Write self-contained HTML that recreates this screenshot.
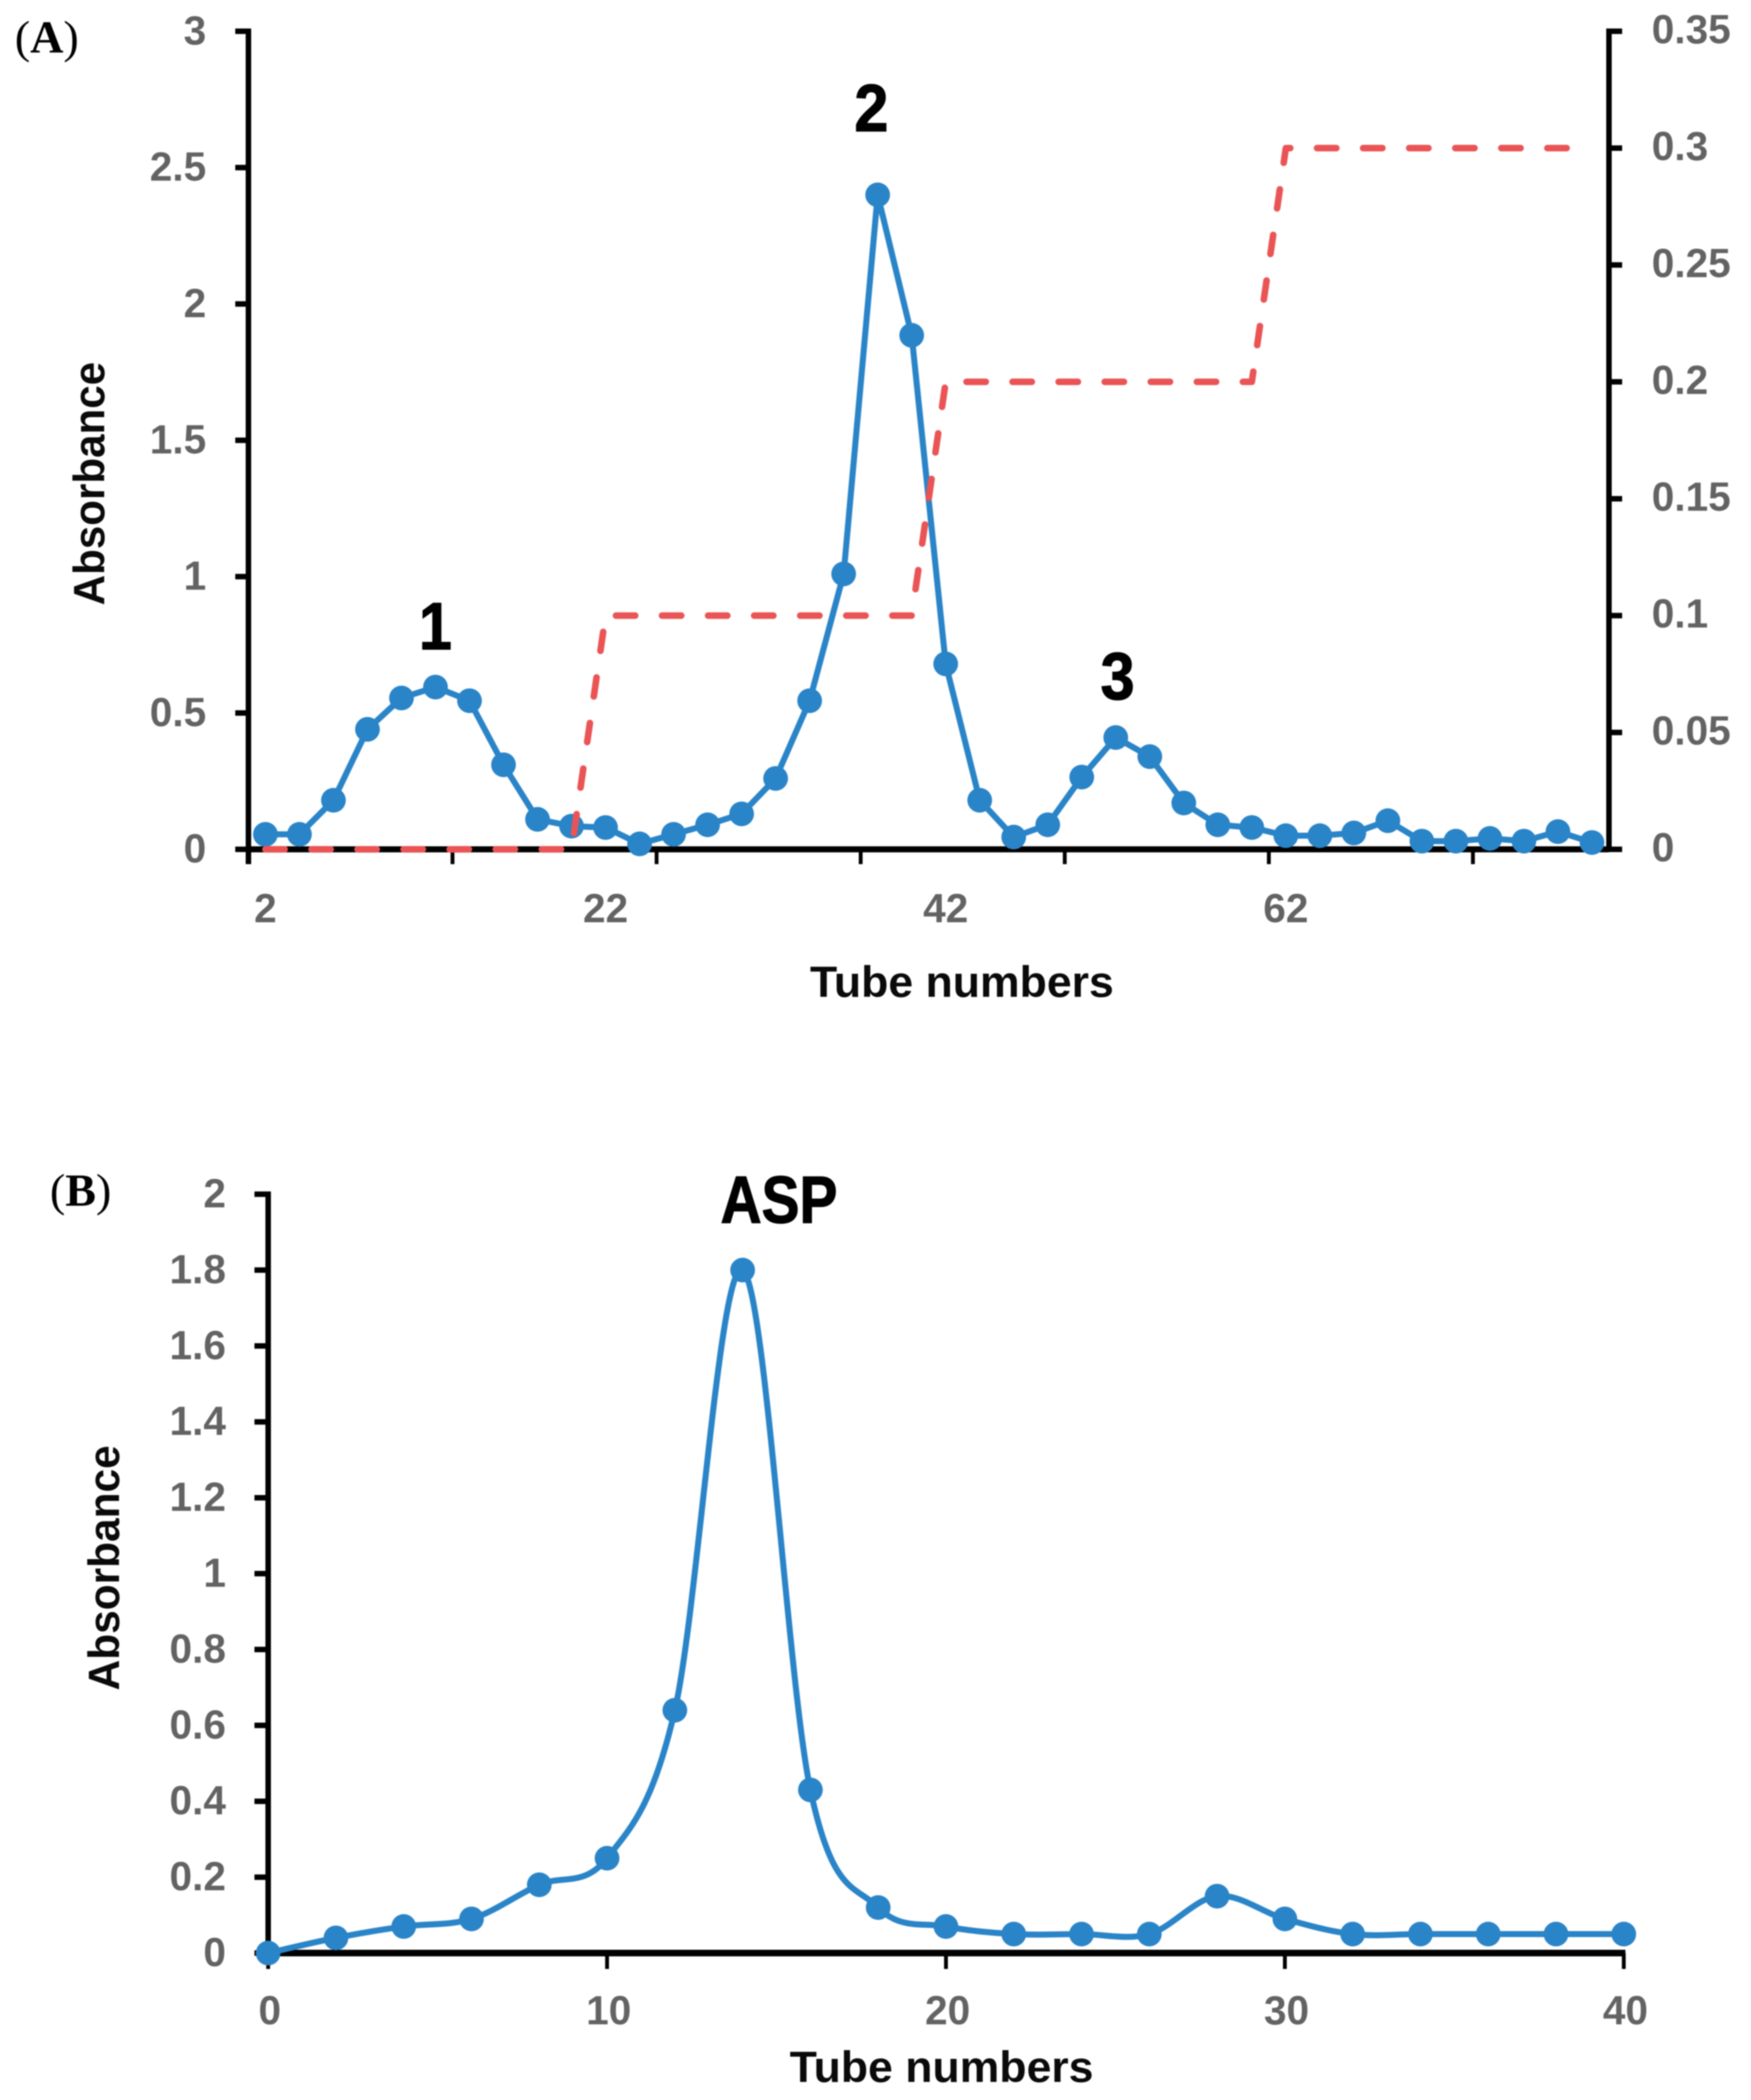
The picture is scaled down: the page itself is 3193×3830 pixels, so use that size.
<!DOCTYPE html>
<html lang="en">
<head>
<meta charset="utf-8">
<title>Absorbance elution profiles</title>
<style>
html,body{margin:0;padding:0;background:#fff;width:3193px;height:3830px;overflow:hidden}
svg{display:block;width:3193px;height:3830px;filter:blur(1px)}
text{font-family:"Liberation Sans",sans-serif}
.tick{font-size:74px;font-weight:700;fill:#636363}
.title{font-size:80px;font-weight:700;fill:#0a0a0a}
.peak{font-size:122px;font-weight:700;fill:#000;stroke:#000;stroke-width:2px}
.panel{font-family:"Liberation Serif",serif;font-size:84px;font-weight:700;fill:#000}
.paren{font-weight:400}
</style>
</head>
<body>
<svg id="figure" xmlns="http://www.w3.org/2000/svg" viewBox="0 0 3193 3830" width="3193" height="3830">
  <rect x="0" y="0" width="3193" height="3830" fill="#ffffff"/>
  <g id="chart-a"></g>
  <g id="chart-b"></g>
  <text class="panel" x="27" y="96"><tspan class="paren">(</tspan>A<tspan class="paren">)</tspan></text>
  <text class="panel" x="91" y="2199"><tspan class="paren">(</tspan>B<tspan class="paren">)</tspan></text>
  <text class="peak" x="794" y="1184" text-anchor="middle" textLength="60" lengthAdjust="spacingAndGlyphs">1</text>
  <text class="peak" x="1589" y="239" text-anchor="middle" textLength="62" lengthAdjust="spacingAndGlyphs">2</text>
  <text class="peak" x="2038" y="1275" text-anchor="middle" textLength="62" lengthAdjust="spacingAndGlyphs">3</text>
  <text class="peak" x="1314" y="2230" textLength="213" lengthAdjust="spacingAndGlyphs">ASP</text>
  <text class="title" x="1477" y="1818" textLength="554" lengthAdjust="spacingAndGlyphs">Tube numbers</text>
  <text class="title" transform="translate(190 1104) rotate(-90)" textLength="444" lengthAdjust="spacingAndGlyphs">Absorbance</text>
  <text class="title" x="1440" y="3797" textLength="554" lengthAdjust="spacingAndGlyphs">Tube numbers</text>
  <text class="title" transform="translate(217 3083) rotate(-90)" textLength="447" lengthAdjust="spacingAndGlyphs">Absorbance</text>
</svg>
<script>
// Chart A data
const tubesA = [2,4,6,8,10,12,14,16,18,20,22,24,26,28,30,32,34,36,38,40,42,44,46,48,50,52,54,56,58,60,62,64,66,68,70,72,74,76,78,80];
const absorbanceA = [0.055,0.055,0.18,0.44,0.555,0.595,0.545,0.31,0.11,0.085,0.08,0.02,0.055,0.09,0.13,0.26,0.545,1.01,2.4,1.885,0.68,0.18,0.045,0.09,0.265,0.41,0.34,0.17,0.09,0.08,0.05,0.05,0.06,0.105,0.03,0.03,0.04,0.03,0.065,0.025];
const gradientA = [0,0,0,0,0,0,0,0,0,0,0.1,0.1,0.1,0.1,0.1,0.1,0.1,0.1,0.1,0.1,0.2,0.2,0.2,0.2,0.2,0.2,0.2,0.2,0.2,0.2,0.3,0.3,0.3,0.3,0.3,0.3,0.3,0.3,0.3,0.3];
const leftTicksA = ['0','0.5','1','1.5','2','2.5','3'];
const rightTicksA = ['0','0.05','0.1','0.15','0.2','0.25','0.3','0.35'];
// Chart B data
const tubesB = [0,2,4,6,8,10,12,14,16,18,20,22,24,26,28,30,32,34,36,38,40];
const absorbanceB = [0,0.04,0.07,0.09,0.18,0.25,0.64,1.8,0.43,0.12,0.07,0.05,0.05,0.05,0.15,0.09,0.05,0.05,0.05,0.05,0.05];
const leftTicksB = ['0','0.2','0.4','0.6','0.8','1','1.2','1.4','1.6','1.8','2'];
const bottomTicksB = ['0','10','20','30','40'];

const SVGNS = 'http://www.w3.org/2000/svg';
const BLUE = '#2a84c8';
const RED = '#ea5455';

function mk(parent, tag) {
  const el = document.createElementNS(SVGNS, tag);
  parent.appendChild(el);
  return el;
}
function bar(parent, x1, y1, x2, y2, w) {
  const l = mk(parent, 'line');
  l.setAttribute('x1', x1);
  l.setAttribute('y1', y1);
  l.setAttribute('x2', x2);
  l.setAttribute('y2', y2);
  l.setAttribute('stroke', '#000');
  l.setAttribute('stroke-width', w);
  return l;
}
function label(parent, x, y, anchor, str) {
  const t = mk(parent, 'text');
  t.setAttribute('class', 'tick');
  t.setAttribute('x', x);
  t.setAttribute('y', y);
  t.setAttribute('text-anchor', anchor);
  t.textContent = str;
  return t;
}
function smoothPath(pts) {
  let d = 'M' + pts[0][0] + ' ' + pts[0][1];
  for (let i = 0; i < pts.length - 1; i++) {
    const p0 = pts[Math.max(i - 1, 0)], p1 = pts[i], p2 = pts[i + 1], p3 = pts[Math.min(i + 2, pts.length - 1)];
    const c1x = p1[0] + (p2[0] - p0[0]) / 6, c1y = p1[1] + (p2[1] - p0[1]) / 6;
    const c2x = p2[0] - (p3[0] - p1[0]) / 6, c2y = p2[1] - (p3[1] - p1[1]) / 6;
    d += ' C' + c1x + ' ' + c1y + ' ' + c2x + ' ' + c2y + ' ' + p2[0] + ' ' + p2[1];
  }
  return d;
}

/* ---------- Chart A ---------- */
(function () {
  const g = document.getElementById('chart-a');
  const left = 453, right = 2934, y0 = 1549, yTop = 57;
  const catW = (right - left) / tubesA.length;
  const xIdx = i => left + (i + 0.5) * catW;
  const yL = v => y0 - (v / parseFloat(leftTicksA[leftTicksA.length - 1])) * (y0 - yTop);
  const yR = v => y0 - (v / parseFloat(rightTicksA[rightTicksA.length - 1])) * (y0 - yTop);

  const yAxisL = bar(g, left, yTop - 5, left, 1576, 10);
  
  
  const yAxisR = bar(g, right, yTop - 5, right, y0 + 5, 10);
  
  
  const xAxis = bar(g, left, y0, right, y0, 11);
  
  

  leftTicksA.forEach(function (s) {
    const v = parseFloat(s);
    const tm = bar(g, 429, yL(v), left, yL(v), 10);
    
    
    const tl = label(g, 376, yL(v) + 24, 'end', s);
    
    
  });
  rightTicksA.forEach(function (s) {
    const v = parseFloat(s);
    const tm = bar(g, right, yR(v), 2958, yR(v), 10);
    
    
    const tl = label(g, 3012, yR(v) + 22, 'start', s);
    
    
  });
  for (let i = 0; i < tubesA.length; i += 6) {
    const x = left + i * catW;
    const tm = bar(g, x, y0, x, 1576, 7);
    
    
  }
  for (let i = 0; i < tubesA.length; i += 10) {
    const tl = label(g, xIdx(i), 1682, 'middle', String(tubesA[i]));
    
    
  }

  const line = mk(g, 'polyline');
  
  
  line.setAttribute('points', absorbanceA.map((v, i) => xIdx(i) + ',' + yL(v)).join(' '));
  line.setAttribute('fill', 'none');
  line.setAttribute('stroke', BLUE);
  line.setAttribute('stroke-width', 11);
  line.setAttribute('stroke-linejoin', 'round');
  absorbanceA.forEach(function (v, i) {
    const c = mk(g, 'circle');
    
    
    c.setAttribute('cx', xIdx(i));
    c.setAttribute('cy', yL(v));
    c.setAttribute('r', 22.5);
    c.setAttribute('fill', BLUE);
  });
  const red = mk(g, 'polyline');
  
  
  red.setAttribute('points', gradientA.map((v, i) => xIdx(i) + ',' + yR(v)).join(' '));
  red.setAttribute('fill', 'none');
  red.setAttribute('stroke', RED);
  red.setAttribute('stroke-width', 12);
  red.setAttribute('stroke-linecap', 'round');
  red.setAttribute('stroke-linejoin', 'round');
  red.setAttribute('stroke-dasharray', '35 49');
})();

/* ---------- Chart B ---------- */
(function () {
  const g = document.getElementById('chart-b');
  const left = 489, right = 2961, y0 = 3562, yTop = 2178;
  const xMax = parseFloat(bottomTicksB[bottomTicksB.length - 1]);
  const yMax = parseFloat(leftTicksB[leftTicksB.length - 1]);
  const xS = v => left + (v / xMax) * (right - left);
  const yS = v => y0 - (v / yMax) * (y0 - yTop);

  const yAxis = bar(g, left, yTop - 5, left, y0 + 5, 10);
  
  
  const xAxis = bar(g, left, y0, right + 3, y0, 12);
  
  

  leftTicksB.forEach(function (s) {
    const v = parseFloat(s);
    const tm = bar(g, 464, yS(v), left, yS(v), 10);
    
    
    const tl = label(g, 412, yS(v) + 24, 'end', s);
    
    
  });
  bottomTicksB.forEach(function (s) {
    const v = parseFloat(s);
    const tm = bar(g, xS(v), y0, xS(v), 3591, 7);
    
    
    const tl = label(g, xS(v) + 3, 3692, 'middle', s);
    
    
  });

  const pts = absorbanceB.map((v, i) => [xS(tubesB[i]), yS(v)]);
  const line = mk(g, 'path');
  
  
  line.setAttribute('d', smoothPath(pts));
  line.setAttribute('fill', 'none');
  line.setAttribute('stroke', BLUE);
  line.setAttribute('stroke-width', 11);
  absorbanceB.forEach(function (v, i) {
    const c = mk(g, 'circle');
    
    
    c.setAttribute('cx', xS(tubesB[i]));
    c.setAttribute('cy', yS(v));
    c.setAttribute('r', 22.5);
    c.setAttribute('fill', BLUE);
  });
})();
</script>
</body>
</html>
